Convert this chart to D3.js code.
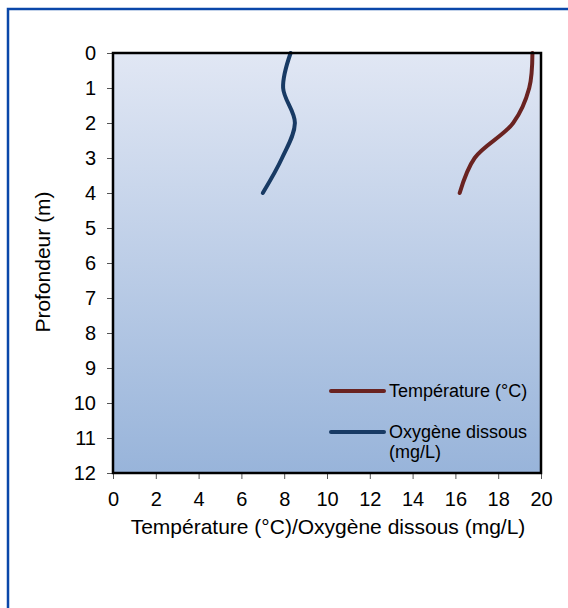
<!DOCTYPE html>
<html>
<head>
<meta charset="utf-8">
<script src="https://cdn.jsdelivr.net/npm/d3@7"></script>
<style>
  body { margin: 0; background: #fff; }
  text { font-family: "Liberation Sans", Arial, sans-serif; fill: #000; }
</style>
</head>
<body>
<div id="chart"></div>
<script>
// data
const depths = [0, 1, 2, 3, 4];
const temperature = [19.6, 19.45, 18.7, 16.9, 16.2];
const oxygen = [8.3, 7.95, 8.5, 7.9, 7.0];
const xTicks = [0, 2, 4, 6, 8, 10, 12, 14, 16, 18, 20];
const yTicks = [0, 1, 2, 3, 4, 5, 6, 7, 8, 9, 10, 11, 12];
const seriesNames = ["Température (°C)", "Oxygène dissous (mg/L)"];

const width = 568, height = 608;
const margin = { top: 53, left: 113, right: 27, bottom: 135 };
const innerW = width - margin.left - margin.right;
const innerH = height - margin.top - margin.bottom;

const svg = d3.select("#chart").append("svg")
    .attr("width", width)
    .attr("height", height);

// outer frame
svg.append("rect")
    .attr("x", 8).attr("y", 9)
    .attr("width", 600).attr("height", 650)
    .attr("fill", "none")
    .attr("stroke", "#0a47a9")
    .attr("stroke-width", 2.5);

// gradient background
const grad = svg.append("defs").append("linearGradient")
    .attr("id", "bg").attr("x1", 0).attr("y1", 0).attr("x2", 0).attr("y2", 1);
grad.append("stop").attr("offset", "0%").attr("stop-color", "#e1e7f4");
grad.append("stop").attr("offset", "100%").attr("stop-color", "#98b4da");

const g = svg.append("g")
    .attr("transform", "translate(" + margin.left + "," + margin.top + ")");

const x = d3.scaleLinear().domain([0, 20]).range([0, innerW]);
const y = d3.scaleLinear().domain([0, 12]).range([0, innerH]);

g.append("rect")
    .attr("width", innerW).attr("height", innerH)
    .attr("fill", "url(#bg)");

// axes
const xAxis = g.append("g")
    .attr("transform", "translate(0," + innerH + ")")
    .call(d3.axisBottom(x).tickValues(xTicks).tickSize(6).tickPadding(10));
const yAxis = g.append("g")
    .call(d3.axisLeft(y).tickValues(yTicks).tickSize(6).tickPadding(11));

[xAxis, yAxis].forEach(ax => {
    ax.select(".domain").remove();
    ax.selectAll("line").attr("stroke", "#555").attr("stroke-width", 1);
    ax.selectAll("text")
        .style("font-family", "'Liberation Sans', Arial, sans-serif")
        .style("font-size", "20px")
        .attr("fill", "#000");
});
xAxis.selectAll("text").attr("dy", "0.85em");

// lines
const line = (vals) => d3.line()
    .x((d, i) => x(vals[i]))
    .y(d => y(d))
    .curve(d3.curveCatmullRom.alpha(0.5))(depths);

g.append("path")
    .attr("d", line(temperature))
    .attr("fill", "none")
    .attr("stroke", "#6a2321")
    .attr("stroke-width", 4)
    .attr("stroke-linecap", "round");

g.append("path")
    .attr("d", line(oxygen))
    .attr("fill", "none")
    .attr("stroke", "#183a64")
    .attr("stroke-width", 4)
    .attr("stroke-linecap", "round");

// plot border
g.append("rect")
    .attr("width", innerW).attr("height", innerH)
    .attr("fill", "none")
    .attr("stroke", "#000")
    .attr("stroke-width", 2.5);

// legend
const legend = g.append("g").attr("transform", "translate(218,338)");
legend.append("line")
    .attr("x1", 0).attr("x2", 53).attr("y1", 0).attr("y2", 0)
    .attr("stroke", "#6a2321").attr("stroke-width", 4).attr("stroke-linecap", "round");
legend.append("text").attr("x", 58).attr("y", 6)
    .style("font-size", "18px").text(seriesNames[0]);
legend.append("line")
    .attr("x1", 0).attr("x2", 53).attr("y1", 41).attr("y2", 41)
    .attr("stroke", "#183a64").attr("stroke-width", 4).attr("stroke-linecap", "round");
legend.append("text").attr("x", 58).attr("y", 47)
    .style("font-size", "18px").text("Oxygène dissous");
legend.append("text").attr("x", 58).attr("y", 67)
    .style("font-size", "18px").text("(mg/L)");

// axis titles
svg.append("text")
    .attr("x", 328).attr("y", 534)
    .attr("text-anchor", "middle")
    .style("font-size", "21px")
    .text("Température (°C)/Oxygène dissous (mg/L)");

svg.append("text")
    .attr("transform", "translate(50,262) rotate(-90)")
    .attr("text-anchor", "middle")
    .style("font-size", "21px")
    .text("Profondeur (m)");
</script>
</body>
</html>
